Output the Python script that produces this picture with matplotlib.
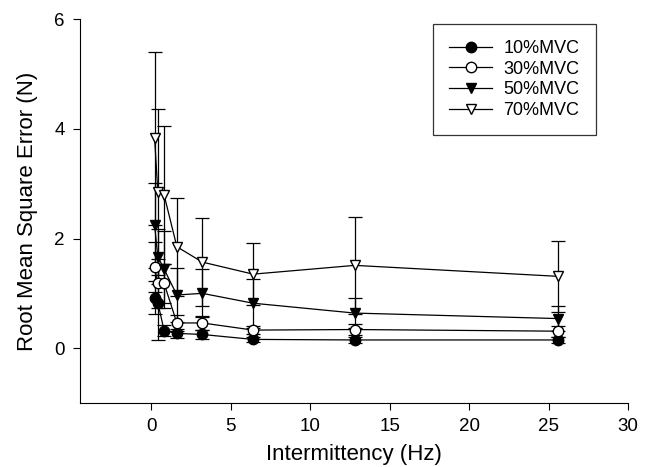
import matplotlib

matplotlib.use("Agg")
import matplotlib.pyplot as plt
from matplotlib.lines import Line2D

plt.rcParams["font.family"] = ["Liberation Sans", "DejaVu Sans"]

# stimulus intermittency (Hz)
FREQ = [0.2, 0.4, 0.8, 1.6, 3.2, 6.4, 12.8, 25.6]

LABELS = ["10%MVC", "30%MVC", "50%MVC", "70%MVC"]

# RMSE means (N)
MVC10 = [0.92, 0.83, 0.32, 0.27, 0.25, 0.16, 0.15, 0.15]
MVC30 = [1.48, 1.18, 1.18, 0.46, 0.46, 0.33, 0.34, 0.31]
MVC50 = [2.24, 1.67, 1.44, 0.97, 1.00, 0.82, 0.64, 0.54]
MVC70 = [3.83, 2.85, 2.79, 1.85, 1.57, 1.35, 1.51, 1.31]

# error bar half-lengths (N)
ERR10 = [0.30, 0.68, 0.10, 0.08, 0.08, 0.05, 0.05, 0.05]
ERR30 = [0.45, 0.45, 0.35, 0.15, 0.13, 0.08, 0.10, 0.10]
ERR50 = [0.78, 0.50, 0.70, 0.49, 0.44, 0.45, 0.27, 0.23]
ERR70 = [1.58, 1.51, 1.26, 0.89, 0.80, 0.56, 0.89, 0.65]

MEANS = [MVC10, MVC30, MVC50, MVC70]
ERRS = [ERR10, ERR30, ERR50, ERR70]
MARKERS = ["o", "o", "v", "v"]
FACES = ["black", "white", "black", "white"]

fig = plt.figure(figsize=(6.47, 4.67), dpi=100)
ax = fig.add_axes([0.1236, 0.137, 0.847, 0.822])

handles = []
for lab, m, e, mk, fc in zip(LABELS, MEANS, ERRS, MARKERS, FACES):
    ax.errorbar(
        FREQ, m, yerr=e, color="black", marker=mk,
        markerfacecolor=fc, markeredgecolor="black", markersize=7.5,
        linewidth=0.9, elinewidth=0.9, capsize=5, capthick=0.9,
    )
    handles.append(Line2D([], [], color="black", marker=mk, markerfacecolor=fc,
                          markeredgecolor="black", markersize=7.5, linewidth=0.9))

ax.set_xlim(-4.5, 30)
ax.set_ylim(-1, 6)
ax.set_xticks([0, 5, 10, 15, 20, 25, 30])
ax.set_yticks([0, 2, 4, 6])
ax.tick_params(direction="out", length=5, width=0.8, labelsize=13.5, pad=6)
for side in ("top", "right"):
    ax.spines[side].set_visible(False)
for side in ("left", "bottom"):
    ax.spines[side].set_linewidth(0.8)

ax.set_xlabel("Intermittency (Hz)", fontsize=16, labelpad=6)
ax.set_ylabel("Root Mean Square Error (N)", fontsize=16, labelpad=12)

leg = fig.legend(
    handles, LABELS, loc="upper left", bbox_to_anchor=(0.669, 0.949),
    fontsize=13, frameon=True, fancybox=False, edgecolor="black",
    handlelength=2.4, borderpad=0.9, labelspacing=0.2, handletextpad=0.6,
    borderaxespad=0,
)
leg.get_frame().set_linewidth(0.9)

fig.savefig("out.png", dpi=100)
